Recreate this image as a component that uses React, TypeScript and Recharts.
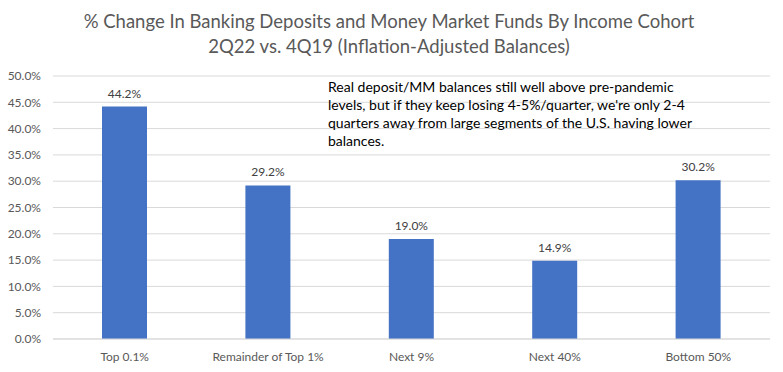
import React from "react";
import { BarChart, Bar, XAxis, YAxis, CartesianGrid, LabelList } from "recharts";

const cohorts = ["Top 0.1%", "Remainder of Top 1%", "Next 9%", "Next 40%", "Bottom 50%"];
const pctChange = [44.2, 29.2, 19.0, 14.9, 30.2];
const yTicks = [0, 5, 10, 15, 20, 25, 30, 35, 40, 45, 50];

const titleLines = [
  "% Change In Banking Deposits and Money Market Funds By Income Cohort",
  "2Q22 vs. 4Q19 (Inflation-Adjusted Balances)",
];
const noteLines = [
  "Real deposit/MM balances still well above pre-pandemic",
  "levels, but if they keep losing 4-5%/quarter, we're only 2-4",
  "quarters away from large segments of the U.S. having lower",
  "balances.",
];

const data = cohorts.map((name, i) => ({ name, value: pctChange[i] }));

const FONT = "Lato, 'Open Sans', sans-serif";

export default function App() {
  return (
    <div
      style={{
        position: "absolute",
        left: 0,
        top: 0,
        width: 783,
        height: 372,
        background: "#fff",
        fontFamily: FONT,
      }}
    >
      <div
        style={{
          position: "absolute",
          top: 9,
          left: 0,
          width: 778,
          textAlign: "center",
          color: "#595959",
          fontSize: 18.5,
          lineHeight: "25px",
        }}
      >
        {titleLines.map((t) => (
          <div key={t}>{t}</div>
        ))}
      </div>
      <BarChart
        width={783}
        height={372}
        data={data}
        margin={{ top: 76, right: 13, bottom: 0, left: 0 }}
        style={{ position: "absolute", left: 0, top: 0 }}
      >
        <CartesianGrid vertical={false} stroke="#d9d9d9" />
        <XAxis
          dataKey="name"
          height={33}
          axisLine={{ stroke: "#d9d9d9" }}
          tickLine={false}
          tickMargin={7}
          tick={{ fill: "#595959", fontSize: 12, fontFamily: FONT }}
        />
        <YAxis
          width={53}
          domain={[0, 50]}
          ticks={yTicks}
          axisLine={false}
          tickLine={false}
          tickMargin={6}
          tickFormatter={(v) => `${Number(v).toFixed(1)}%`}
          tick={{ fill: "#595959", fontSize: 12, fontFamily: FONT }}
        />
        <Bar dataKey="value" fill="#4472C4" barSize={45} isAnimationActive={false}>
          <LabelList
            dataKey="value"
            position="top"
            offset={9}
            formatter={(v: any) => `${Number(v).toFixed(1)}%`}
            style={{ fill: "#404040", fontSize: 12, fontFamily: FONT }}
          />
        </Bar>
      </BarChart>
      <div
        style={{
          position: "absolute",
          left: 328,
          top: 78,
          color: "#000",
          fontSize: 14,
          lineHeight: "18px",
          whiteSpace: "nowrap",
        }}
      >
        {noteLines.map((t) => (
          <div key={t}>{t}</div>
        ))}
      </div>
    </div>
  );
}
